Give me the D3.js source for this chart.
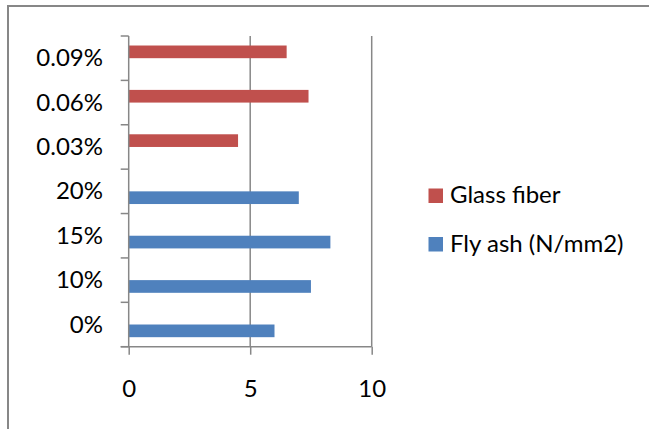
<!DOCTYPE html>
<html>
<head>
<meta charset="utf-8">
<script src="https://cdn.jsdelivr.net/npm/d3@7"></script>
<style>
  html, body { margin: 0; padding: 0; background: #fff; }
  svg { display: block; }
  text { font-family: Lato, "Open Sans", "Liberation Sans", sans-serif; fill: #000; }
</style>
</head>
<body>
<svg id="chart" width="649" height="429"></svg>
<script>
// Categories listed from the bottom of the chart to the top
const categories = ["0%", "10%", "15%", "20%", "0.03%", "0.06%", "0.09%"];
const flyAsh     = [6.0, 7.5, 8.3, 7.0, 0, 0, 0];
const glassFiber = [0, 0, 0, 0, 4.5, 7.4, 6.5];
const seriesNames = ["Glass fiber", "Fly ash (N/mm2)"];
const seriesColors = ["#C0504D", "#4F81BD"];
const xTicks = [0, 5, 10];

const svg = d3.select("#chart");
const gridColor = "#878787";
const fontSize = 24;

// Outer chart frame (extends past the right and bottom edges)
svg.append("rect")
  .attr("x", 8).attr("y", 6)
  .attr("width", 700).attr("height", 500)
  .attr("fill", "none")
  .attr("stroke", gridColor)
  .attr("stroke-width", 2);

const plot = { left: 128.7, right: 371.7, top: 36, bottom: 346.7 };

const x = d3.scaleLinear().domain([0, 10]).range([plot.left, plot.right]);
const y = d3.scaleBand()
  .domain(categories.slice().reverse())
  .range([plot.top, plot.bottom])
  .padding(0);

// Two slots per category: Glass fiber on top, Fly ash below
const slot = d3.scaleBand()
  .domain(seriesNames)
  .range([0, y.bandwidth()])
  .paddingInner(0)
  .paddingOuter(0.75);

// Vertical gridlines
svg.append("g")
  .selectAll("line")
  .data(xTicks.filter(d => d > 0))
  .join("line")
  .attr("x1", d => x(d)).attr("x2", d => x(d))
  .attr("y1", plot.top).attr("y2", plot.bottom)
  .attr("stroke", gridColor)
  .attr("stroke-width", 1.5);

// Bars
const rows = categories.map((c, i) => ({ cat: c, values: [glassFiber[i], flyAsh[i]] }));
svg.append("g")
  .selectAll("g")
  .data(rows)
  .join("g")
  .attr("transform", d => `translate(0,${y(d.cat)})`)
  .selectAll("rect")
  .data(d => d.values.map((v, k) => ({ v, k })).filter(e => e.v > 0))
  .join("rect")
  .attr("x", x(0))
  .attr("y", e => slot(seriesNames[e.k]))
  .attr("width", e => x(e.v) - x(0))
  .attr("height", slot.bandwidth())
  .attr("fill", e => seriesColors[e.k]);

// Category (vertical) axis: line, ticks between categories, labels
const yAxis = svg.append("g");
yAxis.append("line")
  .attr("x1", plot.left).attr("x2", plot.left)
  .attr("y1", plot.top).attr("y2", plot.bottom)
  .attr("stroke", gridColor).attr("stroke-width", 1.5);
const boundaries = y.domain().map(c => y(c)).concat([plot.bottom]);
yAxis.selectAll("line.tick")
  .data(boundaries)
  .join("line")
  .attr("class", "tick")
  .attr("x1", plot.left - 8).attr("x2", plot.left)
  .attr("y1", d => d).attr("y2", d => d)
  .attr("stroke", gridColor).attr("stroke-width", 1.5);
yAxis.selectAll("text")
  .data(categories)
  .join("text")
  .attr("x", 103)
  .attr("y", d => y(d) + y.bandwidth() / 2 + 8)
  .attr("text-anchor", "end")
  .attr("font-size", fontSize)
  .text(d => d);

// Value (horizontal) axis
const xAxis = d3.axisBottom(x).tickValues(xTicks).tickSize(8).tickSizeOuter(0).tickPadding(25);
const gx = svg.append("g")
  .attr("transform", `translate(0,${plot.bottom})`)
  .call(xAxis);
gx.select(".domain").remove();
gx.insert("line", ":first-child")
  .attr("x1", plot.left - 8).attr("x2", plot.right)
  .attr("y1", 0).attr("y2", 0)
  .attr("stroke", gridColor).attr("stroke-width", 1.5);
gx.selectAll(".tick line").attr("stroke", gridColor).attr("stroke-width", 1.5);
gx.selectAll(".tick text")
  .attr("font-size", fontSize)
  .attr("font-family", "Lato, 'Open Sans', sans-serif")
  .attr("fill", "#000");

// Legend
const legend = svg.append("g");
const legendRows = [
  { name: seriesNames[0], color: seriesColors[0], y: 188.5 },
  { name: seriesNames[1], color: seriesColors[1], y: 237 }
];
legend.selectAll("rect")
  .data(legendRows)
  .join("rect")
  .attr("x", 428.5).attr("y", d => d.y)
  .attr("width", 14.5).attr("height", 14.5)
  .attr("fill", d => d.color);
legend.selectAll("text")
  .data(legendRows)
  .join("text")
  .attr("x", 450)
  .attr("y", d => d.y + 14.5)
  .attr("font-size", fontSize)
  .text(d => d.name);
</script>
</body>
</html>
